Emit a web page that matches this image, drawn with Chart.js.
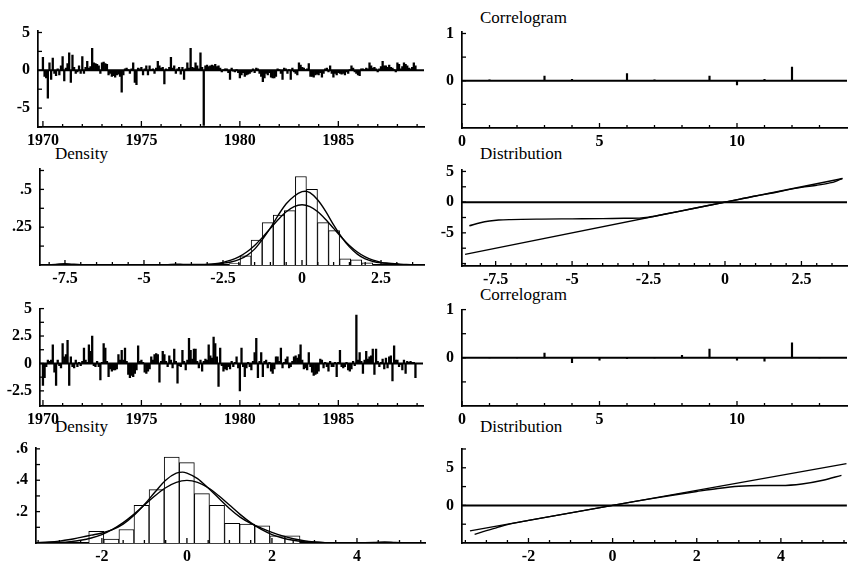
<!DOCTYPE html>
<html><head><meta charset="utf-8">
<script src="https://cdn.jsdelivr.net/npm/chart.js@4.4.1/dist/chart.umd.min.js"></script>
<style>
html,body{margin:0;padding:0;background:#fff;}
body{width:848px;height:566px;position:relative;overflow:hidden;}
canvas{position:absolute;}
.t{position:absolute;font-family:'Liberation Serif','Times New Roman',serif;font-size:17px;color:#000;line-height:1;white-space:nowrap;}
</style></head><body>
<div class="t" style="left:480px;top:9px">Correlogram</div>
<div class="t" style="left:55px;top:145px">Density</div>
<div class="t" style="left:480px;top:145px">Distribution</div>
<div class="t" style="left:480px;top:286px">Correlogram</div>
<div class="t" style="left:55px;top:418px">Density</div>
<div class="t" style="left:480px;top:418px">Distribution</div>
<script>
// ---------------- data ----------------
const startYear = 1970;
const periodsPerYear = 12;
const resid1 = [
 1.7,-0.8,-1.0,-3.7,1.0,-1.2,1.6,-0.4,-0.7,0.2,-0.6,0.6,
 1.8,-1.4,0.3,0.9,2.3,-1.6,2.0,0.4,-0.4,-0.2,0.6,-0.4,
 1.8,-0.4,0.4,1.2,0.3,0.5,2.9,1.0,0.9,0.8,0.6,-0.4,
 1.0,1.1,0.9,0.8,-0.6,-0.4,-0.8,-0.7,-0.9,-0.6,-0.5,-0.8,
 -2.9,-0.6,0.2,0.3,0.1,-0.4,0.2,1.0,-1.6,-1.9,0.3,0.2,
 0.4,-0.6,0.2,0.6,-0.6,0.6,0.1,0.2,-0.4,0.3,1.2,0.6,
 0.3,0.4,-1.8,0.2,0.1,0.4,1.7,0.3,0.6,-0.4,0.2,0.4,
 -0.5,0.4,-1.2,0.2,1.0,0.3,2.9,0.4,0.3,1.0,0.6,0.2,
 2.3,0.4,-7.3,0.6,0.7,0.5,0.6,0.7,0.6,0.8,0.5,0.6,
 0.3,-0.2,0.1,0.2,0.2,-0.3,-1.2,0.3,-0.1,-0.2,0.1,-0.3,
 -1.0,-0.6,-0.3,-0.8,-0.6,-0.5,-0.4,-0.2,0.2,-0.3,0.3,0.2,
 -0.4,-0.8,-1.5,-1.0,-0.4,-0.6,-0.3,-0.9,-1.0,-1.0,-0.8,0.2,
 0.1,-0.4,-1.2,0.3,0.2,-0.4,0.1,-1.2,0.3,-0.2,-0.4,-0.6,
 1.0,0.7,0.4,0.3,0.1,0.2,0.9,-0.8,-0.8,-0.9,-0.6,-0.5,
 -0.6,-0.3,-0.9,-0.4,0.2,0.3,-0.2,0.6,-0.4,-0.9,-0.4,-0.6,
 -0.3,-0.4,-0.5,-0.4,-0.6,-0.2,-0.4,0.1,0.6,0.3,-0.2,-0.4,
 -0.6,-0.7,0.2,0.2,0.1,0.3,0.2,1.0,0.6,0.3,0.4,0.2,
 -0.2,0.2,0.5,1.2,0.6,0.6,0.4,0.7,0.4,0.3,0.1,-0.2,
 1.0,0.8,0.2,0.5,1.0,0.8,0.6,0.3,0.2,0.4,1.0,0.6
];
const resid2 = [
 -2.0,-1.3,-0.3,0.3,0.2,0.3,1.7,-0.8,-2.0,0.3,-0.2,-0.4,
 1.8,0.6,0.8,2.1,-2.0,0.6,-0.3,-0.4,0.3,-0.3,0.1,-0.2,
 0.2,1.4,0.3,0.1,1.7,1.1,2.5,-0.2,-0.3,0.2,-0.3,-1.5,
 0.1,1.8,1.4,0.2,-1.2,-0.5,-0.7,-0.6,-0.6,-0.5,0.8,0.3,
 1.2,0.3,1.4,0.2,-1.0,-1.3,-1.1,-1.2,-0.9,-0.6,1.6,0.2,
 0.3,0.1,-0.8,-0.9,-0.7,-0.5,0.6,0.3,0.8,0.9,0.8,-1.7,
 0.2,1.1,0.8,0.2,-0.3,0.7,0.3,-0.4,1.3,0.2,-1.8,-0.2,
 -0.3,1.2,0.2,-0.6,0.3,2.3,1.2,0.4,1.3,1.3,0.2,-0.4,
 0.3,-0.7,0.2,0.4,0.3,1.7,0.7,0.5,2.4,1.8,0.6,-2.1,
 1.4,-0.2,-0.7,-0.5,-0.6,-0.3,-0.5,0.2,-0.3,0.1,0.6,-0.4,
 -2.5,1.4,-0.3,-1.2,-0.4,0.1,-0.3,-0.6,0.2,1.0,2.3,-1.3,
 0.2,1.0,-1.2,0.2,0.3,-0.4,0.1,-0.7,-0.9,-0.5,0.6,0.6,
 0.2,1.4,-0.4,0.1,0.4,0.6,-0.4,-0.3,0.2,0.6,0.7,0.5,
 0.8,1.7,0.3,-0.5,-0.4,-0.6,1.0,-0.3,-0.8,-1.1,-1.0,-0.9,
 -0.7,0.4,0.3,-0.4,0.1,-0.3,-0.7,0.2,-0.3,-0.3,0.1,-1.2,
 0.1,1.2,-0.3,-0.4,-0.3,0.1,-0.6,-0.7,-0.5,0.2,-0.2,4.4,
 0.3,1.0,0.2,-0.9,0.3,1.1,0.4,0.6,0.7,1.3,-1.0,1.3,
 0.2,-0.3,0.1,0.4,-0.5,0.5,-0.4,0.6,0.7,-1.6,1.6,0.3,
 0.3,-0.3,-0.1,-0.6,0.3,-0.9,0.2,0.1,0.2,0.1,0.1,-1.3
];
// histograms (bin centres and densities)
const histX1 = [-2.135,-1.785,-1.435,-1.085,-0.735,-0.385,-0.035,0.315,0.665,1.015,1.365,1.715,2.065];
const histY1 = [0.01,0.06,0.165,0.28,0.33,0.36,0.585,0.5,0.28,0.227,0.04,0.035,0.015];
const histX2 = [-2.1325,-1.7775,-1.4225,-1.0675,-0.7125,-0.3575,-0.0025,0.3525,0.7075,1.0625,1.4175,1.7725,2.1275,2.4825];
const histY2 = [0.074,0.025,0.086,0.24,0.34,0.548,0.512,0.315,0.24,0.126,0.12,0.11,0.046,0.046];
// estimated densities
const kdeX1 = [-8.3,-7.8,-7.5,-7.3,-7.0,-6.5,-5.0,-4.3,-4.0,-3.7,-3.2,-2.8,-2.5,-2.25,-2.0,-1.75,-1.5,-1.25,-1.0,-0.75,-0.5,-0.25,0,0.1,0.25,0.5,0.75,1.0,1.25,1.5,1.75,2.0,2.25,2.5,2.75,3.0,3.3,3.85];
const kdeY1 = [0.001,0.004,0.009,0.006,0.002,0.001,0.001,0.002,0.006,0.003,0.003,0.006,0.012,0.02,0.035,0.062,0.105,0.17,0.245,0.33,0.405,0.455,0.485,0.488,0.478,0.43,0.355,0.265,0.185,0.12,0.072,0.04,0.023,0.015,0.012,0.008,0.003,0.001];
const normX1 = [-8.3,-4,-3.5,-3,-2.75,-2.5,-2.25,-2,-1.75,-1.5,-1.25,-1,-0.75,-0.5,-0.25,0,0.25,0.5,0.75,1,1.25,1.5,1.75,2,2.25,2.5,2.75,3,3.5,3.85];
const normY1 = [0,0.0001,0.0009,0.0044,0.0091,0.0175,0.0317,0.054,0.0863,0.1295,0.1826,0.242,0.3011,0.3521,0.3867,0.3989,0.3867,0.3521,0.3011,0.242,0.1826,0.1295,0.0863,0.054,0.0317,0.0175,0.0091,0.0044,0.0009,0.0002];
const kdeX2 = [-3.55,-3.25,-3.0,-2.75,-2.5,-2.25,-2.0,-1.75,-1.5,-1.25,-1.0,-0.75,-0.5,-0.25,-0.1,0,0.25,0.5,0.75,1.0,1.25,1.5,1.75,2.0,2.25,2.5,2.75,3.0,3.25,3.5,4.0,4.4,4.65,4.9,5.2,5.6];
const kdeY2 = [0.002,0.006,0.012,0.022,0.036,0.05,0.064,0.085,0.12,0.175,0.245,0.325,0.4,0.445,0.452,0.445,0.41,0.35,0.285,0.22,0.165,0.125,0.095,0.068,0.045,0.027,0.014,0.006,0.002,0.001,0.001,0.003,0.006,0.003,0.001,0];
const normX2 = [-3.55,-3.25,-3,-2.75,-2.5,-2.25,-2,-1.75,-1.5,-1.25,-1,-0.75,-0.5,-0.25,0,0.25,0.5,0.75,1,1.25,1.5,1.75,2,2.25,2.5,2.75,3,3.25,3.5,4,5.6];
const normY2 = [0.0007,0.002,0.0044,0.0091,0.0175,0.0317,0.054,0.0863,0.1295,0.1826,0.242,0.3011,0.3521,0.3867,0.3989,0.3867,0.3521,0.3011,0.242,0.1826,0.1295,0.0863,0.054,0.0317,0.0175,0.0091,0.0044,0.002,0.0009,0.0001,0];
// correlograms
const lags = [1,2,3,4,5,6,7,8,9,10,11,12,13];
const corr1 = [0.02,0.0,0.1,0.03,0.0,0.15,0.02,0.0,0.1,-0.09,0.03,0.29,0.0];
const corr2 = [0.01,0.01,0.1,-0.1,-0.05,-0.02,0.01,0.05,0.18,-0.05,-0.07,0.31,0.0];
// distribution (QQ) plots
const qqLineX1 = [-8.5,3.85];
const qqLineY1 = [-8.5,3.85];
const distX1 = [-8.36,-8.0,-7.7,-7.4,-7.0,-6.0,-5.0,-4.0,-3.3,-2.8,-2.5,-2.0,-1.5,-1.0,-0.5,0,0.5,1.0,1.5,2.0,2.5,3.0,3.4,3.6,3.82];
const distY1 = [-3.85,-3.35,-3.08,-2.92,-2.84,-2.76,-2.72,-2.68,-2.63,-2.6,-2.45,-1.98,-1.5,-1.0,-0.5,0,0.5,1.0,1.45,1.95,2.4,2.75,3.1,3.35,3.85];
const qqLineX2 = [-3.39,5.56];
const qqLineY2 = [-3.39,5.56];
const distX2 = [-3.28,-3.0,-2.75,-2.5,-2.0,-1.5,-1.0,-0.5,0,0.5,1.0,1.5,2.0,2.5,3.0,3.5,4.0,4.5,5.0,5.44];
const distY2 = [-3.85,-3.35,-2.95,-2.55,-2.0,-1.5,-1.0,-0.5,0,0.5,0.97,1.42,1.85,2.25,2.55,2.65,2.65,2.85,3.35,4.0];
// tick values and labels
const yearTicks = [1970,1971,1972,1973,1974,1975,1976,1977,1978,1979,1980,1981,1982,1983,1984,1985,1986,1987,1988,1989];
const yearLabels = [1970,1975,1980,1985];
const lagTicks = [0,1,2,3,4,5,6,7,8,9,10,11,12,13];
const lagLabels = [0,5,10];
const resTicks1 = [-7.5,-5,-2.5,0,2.5,5];   const resLabels1 = [-5,0,5];
const resTicks2 = [-2.5,-1.25,0,1.25,2.5,3.75,5]; const resLabels2 = [-2.5,0,2.5,5];
const denTicks1 = [0.125,0.25,0.375,0.5,0.625]; const denLabels1 = [0.25,0.5];
const denTicks2 = [0.1,0.2,0.3,0.4,0.5,0.6]; const denLabels2 = [0.2,0.4,0.6];
const corTicks = [-0.5,0,0.5,1]; const corLabels = [0,1];
const xTicksA = [-8.5,-8,-7.5,-7,-6.5,-6,-5.5,-5,-4.5,-4,-3.5,-3,-2.5,-2,-1.5,-1,-0.5,0,0.5,1,1.5,2,2.5,3,3.5];
const xLabelsA = [-7.5,-5,-2.5,0,2.5];
const xTicksB = [-3.5,-3,-2.5,-2,-1.5,-1,-0.5,0,0.5,1,1.5,2,2.5,3,3.5,4,4.5,5,5.5];
const xLabelsB = [-2,0,2,4];
const qqYTicks1 = [-10,-7.5,-5,-2.5,0,2.5,5]; const qqYLabels1 = [-5,0,5];
const qqYTicks2 = [-2.5,0,2.5,5,7.5]; const qqYLabels2 = [0,5];

// ---------------- rendering ----------------
Chart.defaults.font.family = "'Liberation Serif','Times New Roman',serif";
Chart.defaults.font.size = 16;
Chart.defaults.font.weight = 'bold';
Chart.defaults.color = '#000';

const pts = (xs, ys) => xs.map((x, i) => ({x: x, y: ys[i]}));
const monthPts = (vals) => vals.map((v, i) => ({x: startYear + i / periodsPerYear, y: v}));

const inwardTicks = {
  id: 'inwardTicks',
  afterDatasetsDraw(chart, args, opts) {
    const ctx = chart.ctx, a = chart.chartArea;
    const xs = chart.scales.x, ys = chart.scales.y;
    ctx.save();
    ctx.strokeStyle = '#000';
    ctx.lineWidth = 1.3;
    xs.ticks.forEach(t => {
      if (t.value < xs.min || t.value > xs.max) return;
      const p = xs.getPixelForValue(t.value);
      const len = (t.label !== '' && t.label !== undefined) ? opts.xMajor : opts.xMinor;
      ctx.beginPath(); ctx.moveTo(p, a.bottom); ctx.lineTo(p, a.bottom - len); ctx.stroke();
    });
    ys.ticks.forEach(t => {
      const p = ys.getPixelForValue(t.value);
      ctx.beginPath(); ctx.moveTo(a.left, p); ctx.lineTo(a.left + opts.yLen, p); ctx.stroke();
    });
    ctx.restore();
  }
};

function fmt(v) {
  let s = String(v);
  if (s.startsWith('0.')) s = s.slice(1);
  if (s.startsWith('-0.')) s = '-' + s.slice(2);
  return s;
}
function labeler(arr) {
  return (v) => arr.some(a => Math.abs(a - v) < 1e-9) ? fmt(v) : '';
}

function makePanel(p) {
  const padL = 44, padT = 12, padB = 26, padR = p.padR;
  const w = p.R - p.L + padL + padR, h = p.B - p.T + padT + padB;
  const cv = document.createElement('canvas');
  cv.width = w; cv.height = h;
  cv.style.left = (p.L - padL) + 'px';
  cv.style.top = (p.T - padT) + 'px';
  cv.style.width = w + 'px';
  cv.style.height = h + 'px';
  document.body.appendChild(cv);
  new Chart(cv, {
    type: p.type,
    data: {datasets: p.datasets},
    options: {
      responsive: false, animation: false, devicePixelRatio: 1,
      layout: {padding: {left: 0, top: padT, right: padR, bottom: 0}, autoPadding: false},
      scales: {
        x: {
          type: 'linear', min: p.xMin, max: p.xMax, offset: false,
          grid: {display: false, drawTicks: false},
          border: {display: true, color: '#000', width: 1.7},
          ticks: {autoSkip: false, maxRotation: 0, padding: 4, callback: labeler(p.xLabels)},
          afterBuildTicks: s => { s.ticks = p.xTicks.filter(v => v >= p.xMin && v <= p.xMax).map(v => ({value: v})); },
          afterFit: s => { s.height = padB; }
        },
        y: {
          type: 'linear', min: p.yMin, max: p.yMax,
          grid: {display: false, drawTicks: false},
          border: {display: true, color: '#000', width: 1.7},
          ticks: {autoSkip: false, padding: 8, callback: labeler(p.yLabels)},
          afterBuildTicks: s => { s.ticks = p.yTicks.map(v => ({value: v})); },
          afterFit: s => { s.width = padL; }
        }
      },
      plugins: {legend: {display: false}, tooltip: {enabled: false},
                inwardTicks: {xMajor: p.xMajor || 5, xMinor: 3, yLen: 4}}
    },
    plugins: [inwardTicks]
  });
}

const lineStyle = {type: 'line', borderColor: '#000', borderWidth: 1.4, pointRadius: 0, fill: false,
                   cubicInterpolationMode: 'monotone', order: 0};
const zeroLine = (a, b) => Object.assign({}, lineStyle, {data: [{x: a, y: 0}, {x: b, y: 0}], borderWidth: 2});

// A: residuals 1
makePanel({L: 38, T: 25, R: 424, B: 127, padR: 14, type: 'bar',
  xMin: 1969.75, xMax: 1989.35, yMin: -7.5, yMax: 5.25,
  xTicks: yearTicks, xLabels: yearLabels, yTicks: resTicks1, yLabels: resLabels1, xMajor: 6,
  datasets: [
    zeroLine(1969.75, 1989.35),
    {type: 'bar', data: monthPts(resid1), backgroundColor: '#000', categoryPercentage: 1, barPercentage: 1, order: 1}
  ]});
// B: density 1
makePanel({L: 40, T: 163, R: 424, B: 265, padR: 14, type: 'bar',
  xMin: -8.29, xMax: 3.86, yMin: 0, yMax: 0.6375,
  xTicks: xTicksA, xLabels: xLabelsA, yTicks: denTicks1, yLabels: denLabels1,
  datasets: [
    Object.assign({}, lineStyle, {data: pts(kdeX1, kdeY1)}),
    Object.assign({}, lineStyle, {data: pts(normX1, normY1)}),
    {type: 'bar', data: pts(histX1, histY1), backgroundColor: '#fff', borderColor: '#000', borderWidth: 1,
     categoryPercentage: 1, barPercentage: 1, order: 1}
  ]});
// C: residuals 2
makePanel({L: 40, T: 303, R: 423, B: 406, padR: 14, type: 'bar',
  xMin: 1969.85, xMax: 1989.3, yMin: -3.88, yMax: 5.0,
  xTicks: yearTicks, xLabels: yearLabels, yTicks: resTicks2, yLabels: resLabels2, xMajor: 6,
  datasets: [
    zeroLine(1969.85, 1989.3),
    {type: 'bar', data: monthPts(resid2), backgroundColor: '#000', categoryPercentage: 1, barPercentage: 1, order: 1}
  ]});
// D: density 2
makePanel({L: 36, T: 442, R: 425, B: 543, padR: 14, type: 'bar',
  xMin: -3.55, xMax: 5.6, yMin: 0, yMax: 0.608,
  xTicks: xTicksB, xLabels: xLabelsB, yTicks: denTicks2, yLabels: denLabels2,
  datasets: [
    Object.assign({}, lineStyle, {data: pts(kdeX2, kdeY2)}),
    Object.assign({}, lineStyle, {data: pts(normX2, normY2)}),
    {type: 'bar', data: pts(histX2, histY2), backgroundColor: '#fff', borderColor: '#000', borderWidth: 1,
     categoryPercentage: 1, barPercentage: 1, order: 1}
  ]});
// E: correlogram 1
makePanel({L: 462, T: 26, R: 847, B: 128, padR: 1, type: 'bar',
  xMin: 0, xMax: 14, yMin: -1, yMax: 1.04,
  xTicks: lagTicks, xLabels: lagLabels, yTicks: corTicks, yLabels: corLabels,
  datasets: [
    zeroLine(0, 14),
    {type: 'bar', data: pts(lags, corr1), backgroundColor: '#000', barThickness: 1.5, order: 1}
  ]});
// F: distribution 1
makePanel({L: 462, T: 164, R: 847, B: 266, padR: 1, type: 'scatter',
  xMin: -8.6, xMax: 3.99, yMin: -10.4, yMax: 5.3,
  xTicks: xTicksA, xLabels: xLabelsA, yTicks: qqYTicks1, yLabels: qqYLabels1,
  datasets: [
    zeroLine(-8.6, 3.99),
    Object.assign({}, lineStyle, {data: pts(qqLineX1, qqLineY1), showLine: true}),
    Object.assign({}, lineStyle, {data: pts(distX1, distY1), showLine: true})
  ]});
// G: correlogram 2
makePanel({L: 462, T: 304, R: 847, B: 406, padR: 1, type: 'bar',
  xMin: 0, xMax: 14, yMin: -1, yMax: 1,
  xTicks: lagTicks, xLabels: lagLabels, yTicks: corTicks, yLabels: corLabels,
  datasets: [
    zeroLine(0, 14),
    {type: 'bar', data: pts(lags, corr2), backgroundColor: '#000', barThickness: 1.5, order: 1}
  ]});
// H: distribution 2
makePanel({L: 462, T: 443, R: 847, B: 543, padR: 1, type: 'scatter',
  xMin: -3.58, xMax: 5.57, yMin: -5, yMax: 7.55,
  xTicks: xTicksB, xLabels: xLabelsB, yTicks: qqYTicks2, yLabels: qqYLabels2,
  datasets: [
    zeroLine(-3.58, 5.57),
    Object.assign({}, lineStyle, {data: pts(qqLineX2, qqLineY2), showLine: true}),
    Object.assign({}, lineStyle, {data: pts(distX2, distY2), showLine: true})
  ]});
</script>
</body></html>
